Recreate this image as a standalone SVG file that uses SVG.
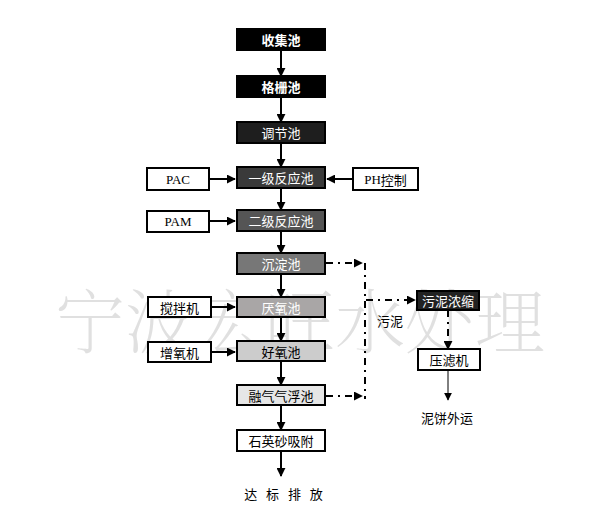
<svg xmlns="http://www.w3.org/2000/svg" width="589" height="512" viewBox="0 0 589 512">
<defs>
<marker id="ah" viewBox="0 0 10 10" refX="9" refY="5" markerWidth="4.5" markerHeight="4.5" orient="auto" markerUnits="strokeWidth"><path d="M0,0 L10,5 L0,10 z" fill="#000"/></marker>
<marker id="ah2" viewBox="0 0 10 10" refX="9" refY="5" markerWidth="8" markerHeight="8" orient="auto" markerUnits="strokeWidth"><path d="M0,0 L10,5 L0,10 z" fill="#000"/></marker>
</defs>
<style>
.b{stroke:#000;stroke-width:2}
.w{fill:#fff}
.t{font-family:"Noto Sans CJK SC","DejaVu Sans",sans-serif;font-size:13px;text-anchor:middle;dominant-baseline:central}
.tw{fill:#fff}
.tb{fill:#000}
.bold{font-weight:bold}
.ser{font-family:"Liberation Serif","Noto Sans CJK SC",serif}
.c{stroke:#000;stroke-width:2;fill:none}
.d{stroke:#000;stroke-width:2;fill:none;stroke-dasharray:7 5 2 5}
</style>
<rect width="589" height="512" fill="#fff"/>
<text x="55" y="348" font-family="Noto Serif CJK SC,Noto Sans CJK SC,serif" font-size="70" font-weight="200" fill="#e0e0e0" textLength="490">宁波宏旺水处理</text>
<g id="connectors">
<line class="c" x1="281" y1="50" x2="281" y2="76" marker-end="url(#ah)"/>
<line class="c" x1="281" y1="97" x2="281" y2="122" marker-end="url(#ah)"/>
<line class="c" x1="281" y1="143" x2="281" y2="167" marker-end="url(#ah)"/>
<line class="c" x1="281" y1="188" x2="281" y2="210" marker-end="url(#ah)"/>
<line class="c" x1="281" y1="231" x2="281" y2="253" marker-end="url(#ah)"/>
<line class="c" x1="281" y1="274" x2="281" y2="297" marker-end="url(#ah)"/>
<line class="c" x1="281" y1="317" x2="281" y2="341" marker-end="url(#ah)"/>
<line class="c" x1="281" y1="361" x2="281" y2="385" marker-end="url(#ah)"/>
<line class="c" x1="281" y1="405" x2="281" y2="430" marker-end="url(#ah)"/>
<line class="c" x1="281" y1="451" x2="281" y2="476" marker-end="url(#ah)"/>
<line class="c" x1="209" y1="179" x2="235" y2="179" marker-end="url(#ah)"/>
<line class="c" x1="209" y1="221" x2="235" y2="221" marker-end="url(#ah)"/>
<line class="c" x1="353" y1="179" x2="327" y2="179" marker-end="url(#ah)"/>
<line class="c" x1="211" y1="307" x2="235" y2="307" marker-end="url(#ah)"/>
<line class="c" x1="211" y1="352" x2="235" y2="352" marker-end="url(#ah)"/>
<line class="d" x1="326" y1="263" x2="362" y2="263" marker-end="url(#ah)"/>
<line class="d" x1="326" y1="396" x2="362" y2="396" marker-end="url(#ah)"/>
<line class="d" x1="365" y1="263" x2="365" y2="399"/>
<line class="d" x1="366" y1="300" x2="415" y2="300" marker-end="url(#ah)"/>
<line class="d" x1="448" y1="310" x2="448" y2="349" marker-end="url(#ah)"/>
<line stroke="#000" stroke-width="1" x1="448" y1="370" x2="448" y2="400" marker-end="url(#ah2)"/>
</g>
<g id="n1"><rect class="b" x="237" y="29" width="88" height="21" fill="#000"/><text class="t tw bold" x="281" y="39.5">收集池</text></g>
<g id="n2"><rect class="b" x="237" y="76" width="88" height="21" fill="#000"/><text class="t tw bold" x="281" y="86.5">格栅池</text></g>
<g id="n3"><rect class="b" x="237" y="122" width="88" height="21" fill="#1e1e1e"/><text class="t tw" x="281" y="132.5">调节池</text></g>
<g id="n4"><rect class="b" x="237" y="167" width="88" height="21" fill="#3a3a3a"/><text class="t tw" x="281" y="177.5">一级反应池</text></g>
<g id="n5"><rect class="b" x="237" y="210" width="88" height="21" fill="#555"/><text class="t tw" x="281" y="220.5">二级反应池</text></g>
<g id="n6"><rect class="b" x="237" y="253" width="88" height="21" fill="#777"/><text class="t tw" x="281" y="263.5">沉淀池</text></g>
<g id="n7"><rect class="b" x="237" y="297" width="88" height="20" fill="#a9a6a6"/><text class="t tw" x="281" y="307">厌氧池</text></g>
<g id="n8"><rect class="b" x="237" y="341" width="88" height="20" fill="#ccc"/><text class="t tb" x="281" y="351">好氧池</text></g>
<g id="n9"><rect class="b" x="237" y="385" width="88" height="20" fill="#e6e6e6"/><text class="t tb" x="281" y="395">融气气浮池</text></g>
<g id="n10"><rect class="b w" x="237" y="430" width="88" height="21"/><text class="t tb" x="281" y="440.5">石英砂吸附</text></g>
<g id="n11"><text class="t tb" x="285" y="493" letter-spacing="3">达 标 排 放</text></g>
<g id="pac"><rect class="b w" x="147" y="168" width="62" height="22"/><text class="t tb ser" x="178" y="179">PAC</text></g>
<g id="pam"><rect class="b w" x="147" y="211" width="62" height="21"/><text class="t tb ser" x="178" y="221.5">PAM</text></g>
<g id="ph"><rect class="b w" x="353" y="168" width="65" height="22"/><text class="t tb" x="385.5" y="179"><tspan class="ser">PH</tspan>控制</text></g>
<g id="mix"><rect class="b w" x="148" y="297" width="63" height="20"/><text class="t tb" x="179.5" y="307">搅拌机</text></g>
<g id="aer"><rect class="b w" x="148" y="342" width="63" height="20"/><text class="t tb" x="179.5" y="352">增氧机</text></g>
<g id="thk"><rect class="b" x="417" y="291" width="62" height="19" fill="#222"/><text class="t tw" x="448" y="300.5">污泥浓缩</text></g>
<g id="prs"><rect class="b w" x="418" y="349" width="62" height="21"/><text class="t tb" x="449" y="359.5">压滤机</text></g>
<text class="t tb" x="390" y="320">污泥</text>
<text class="t tb" x="447" y="417">泥饼外运</text>
</svg>
